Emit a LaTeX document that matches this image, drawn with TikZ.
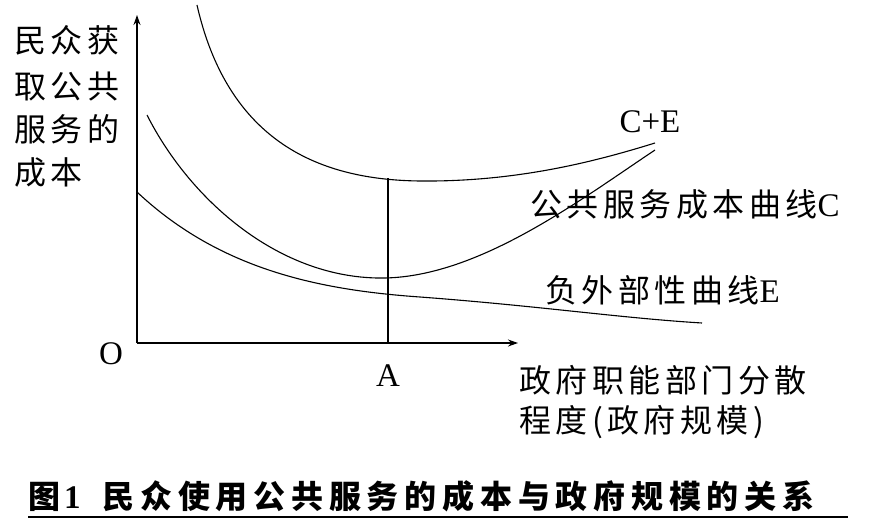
\documentclass[tikz,border=0pt]{standalone}
\usepackage{fontspec}
\setmainfont{Liberation Serif}
\newfontfamily\cjk{Noto Sans CJK SC}[LetterSpace=14]
\newfontfamily\cjkc{Noto Sans CJK SC}[LetterSpace=18]
\usetikzlibrary{arrows.meta}
\begin{document}
\begin{tikzpicture}[x=1pt,y=-1pt,
  lbl/.style={inner sep=0pt,font=\fontsize{32}{36}\selectfont\cjk},
  lat/.style={inner sep=0pt,font=\fontsize{33}{36}\selectfont},
  crv/.style={line width=1.1pt},
  ax/.style={line width=1.2pt,-{Stealth[length=10pt,width=7pt]}}]
\useasboundingbox (0,0) rectangle (878,524);
\coordinate (O) at (137,343);
\coordinate (Y) at (137,15);
\coordinate (X) at (518,343);
\draw[ax] (O) -- (Y);
\draw[ax] (O) -- (X);
\coordinate (At) at (388,178);
\coordinate (Ab) at (388,343);
\draw[crv] (At) -- (Ab);
% C+E
\draw[crv] (197,5) .. controls (230,150) and (330,180) .. (420,181)
  .. controls (520,182) and (600,160) .. (655,143);
% C
\draw[crv] (147,115) .. controls (190,200) and (280,280) .. (385,278)
  .. controls (480,276) and (580,200) .. (655,150);
% E
\draw[crv] (137,192) .. controls (220,270) and (320,290) .. (420,297)
  .. controls (540,306) and (620,318) .. (702,323);
\node[lat] (ce) at (650,122) {C+E};
\node[lbl,anchor=west] (lc) at (530,204) {公共服务成本曲线\fontspec{Liberation Serif}\fontsize{33}{36}\selectfont C};
\node[lbl,anchor=west] (le) at (545,290) {负外部性曲线\fontspec{Liberation Serif}\fontsize{33}{36}\selectfont E};
\node[lat] (o) at (111,354) {O};
\node[lat] (a) at (388,376) {A};
\node[lbl,anchor=west] (x1) at (519,380) {政府职能部门分散};
\node[lbl,anchor=west] (x2) at (519,422) {程度(政府规模)};
\node[lbl,anchor=west] (y1) at (14,40) {民众获};
\node[lbl,anchor=west] (y2) at (14,87) {取公共};
\node[lbl,anchor=west] (y3) at (14,129) {服务的};
\node[lbl,anchor=west] (y4) at (14,172) {成本};
\node[inner sep=0pt,anchor=west,font=\fontsize{32}{36}\selectfont\bfseries\cjkc] (cap) at (28,496) {图\hspace{4pt}{\fontspec{Liberation Serif}\bfseries\fontsize{33}{36}\selectfont 1}\hspace{22pt}民众使用公共服务的成本与政府规模的关系};
\draw[line width=1.2pt] (28,517) -- (848,517);
\end{tikzpicture}
\end{document}
